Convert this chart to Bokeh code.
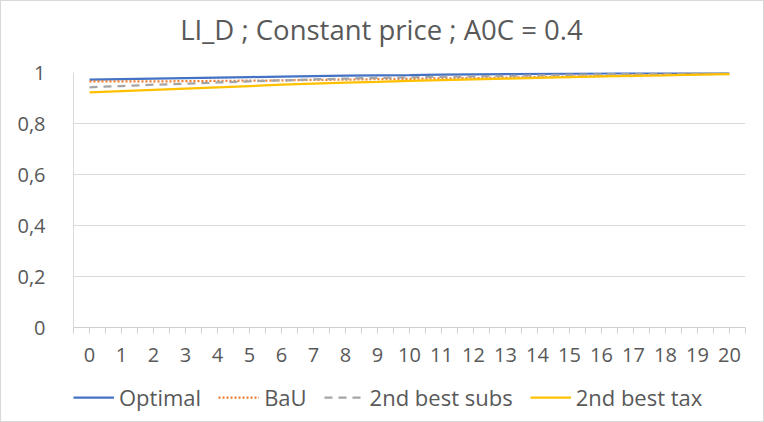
from bokeh.plotting import figure
from bokeh.layouts import column
from bokeh.models import FixedTicker, Legend, LegendItem, Range1d, Label
from bokeh.embed import file_html
from bokeh.resources import INLINE

periods = list(range(21))
optimal = [0.972, 0.974, 0.976, 0.978, 0.980, 0.982, 0.984, 0.986, 0.988, 0.989, 0.990,
           0.992, 0.993, 0.994, 0.995, 0.996, 0.997, 0.998, 0.999, 0.999, 1.000]
bau = [0.965, 0.965, 0.965, 0.966, 0.967, 0.968, 0.969, 0.971, 0.972, 0.974, 0.975,
       0.977, 0.978, 0.980, 0.982, 0.984, 0.986, 0.989, 0.991, 0.993, 0.995]
subs = [0.942, 0.947, 0.952, 0.956, 0.961, 0.965, 0.969, 0.973, 0.976, 0.979, 0.981,
        0.983, 0.985, 0.987, 0.989, 0.991, 0.993, 0.994, 0.995, 0.997, 0.998]
tax = [0.922, 0.927, 0.932, 0.937, 0.942, 0.947, 0.952, 0.956, 0.960, 0.963, 0.967,
       0.970, 0.973, 0.976, 0.979, 0.982, 0.985, 0.987, 0.989, 0.992, 0.994]
y_ticks = [0, 0.2, 0.4, 0.6, 0.8, 1.0]
y_labels = ["0", "0,2", "0,4", "0,6", "0,8", "1"]
title_text = "LI_D ; Constant price ; A0C = 0.4"
series = [("Optimal", optimal, "#4472C4", "solid"),
          ("BaU", bau, "#ED7D31", "2 2"),
          ("2nd best subs", subs, "#A5A5A5", "8 6"),
          ("2nd best tax", tax, "#FFC000", "solid")]

FONT = "Open Sans"
TXT = "#595959"
W = 762
TOP_H = 59
LEG_H = 42
FRAME_L = 72
FRAME_R = 744

# title strip (its frame is aligned with the chart frame by the column layout)
pt = figure(width=W, height=TOP_H, output_backend="svg", toolbar_location=None,
            x_axis_location=None, y_axis_location=None,
            x_range=Range1d(FRAME_L, FRAME_R), y_range=Range1d(0, TOP_H),
            min_border_left=0, min_border_right=0, min_border_top=0, min_border_bottom=0)
pt.grid.visible = False
pt.outline_line_color = None
pt.add_layout(Label(x=380, y=TOP_H - 28, text=title_text, text_align="center",
                    text_baseline="middle", text_font=FONT, text_font_size="27.5px",
                    text_color=TXT))

# main chart
p = figure(width=W, height=420 - TOP_H - LEG_H, output_backend="svg", toolbar_location=None,
           x_range=Range1d(-0.5, 20.5), y_range=Range1d(0, 1),
           min_border_left=FRAME_L, min_border_right=W - FRAME_R, min_border_top=12,
           min_border_bottom=52)

p.outline_line_color = None
p.xgrid.grid_line_color = None
p.ygrid.grid_line_color = "#d9d9d9"
p.ygrid.grid_line_width = 1

p.yaxis.ticker = FixedTicker(ticks=y_ticks)
p.yaxis.major_label_overrides = {t: l for t, l in zip(y_ticks, y_labels)}
p.yaxis.axis_line_color = "#d9d9d9"
p.yaxis.major_tick_line_color = None
p.yaxis.minor_tick_line_color = None
p.yaxis.major_label_standoff = 22

p.xaxis.ticker = FixedTicker(ticks=periods, minor_ticks=[k - 0.5 for k in range(22)])
p.xaxis.axis_line_color = "#d0d0d0"
p.xaxis.major_tick_line_color = "#d0d0d0"
p.xaxis.minor_tick_line_color = "#d0d0d0"
p.xaxis.major_tick_out = 6
p.xaxis.major_tick_in = 0
p.xaxis.minor_tick_out = 6
p.xaxis.minor_tick_in = 0
p.xaxis.major_label_standoff = 14

for ax in (p.xaxis, p.yaxis):
    ax.major_label_text_font = FONT
    ax.major_label_text_font_size = "20px"
    ax.major_label_text_color = TXT

for name, vals, color, dash in series:
    p.line(periods, vals, line_color=color, line_width=2.25, line_dash=dash)

# legend strip below the chart (separate figure so the legend is not clipped)
pl = figure(width=W, height=LEG_H, output_backend="svg", toolbar_location=None,
            x_axis_location=None, y_axis_location=None,
            x_range=Range1d(-0.5, 20.5), y_range=Range1d(10, 11),
            min_border_left=0, min_border_right=0, min_border_top=0, min_border_bottom=0)
pl.grid.visible = False
pl.outline_line_color = None
items = []
for name, vals, color, dash in series:
    r = pl.line(periods, vals, line_color=color, line_width=2.25, line_dash=dash)
    items.append(LegendItem(label=name, renderers=[r]))
legend = Legend(items=items, orientation="horizontal", location=(0, 9),
                glyph_width=41, label_standoff=5, spacing=17, padding=0, margin=0,
                border_line_color=None, background_fill_alpha=0,
                label_text_font=FONT, label_text_font_size="22px", label_text_color=TXT)
pl.add_layout(legend, "center")

layout = column(pt, p, pl, spacing=0)
layout.styles = {"border": "1px solid #d9d9d9"}

open("out.html", "w").write(file_html(layout, INLINE))
